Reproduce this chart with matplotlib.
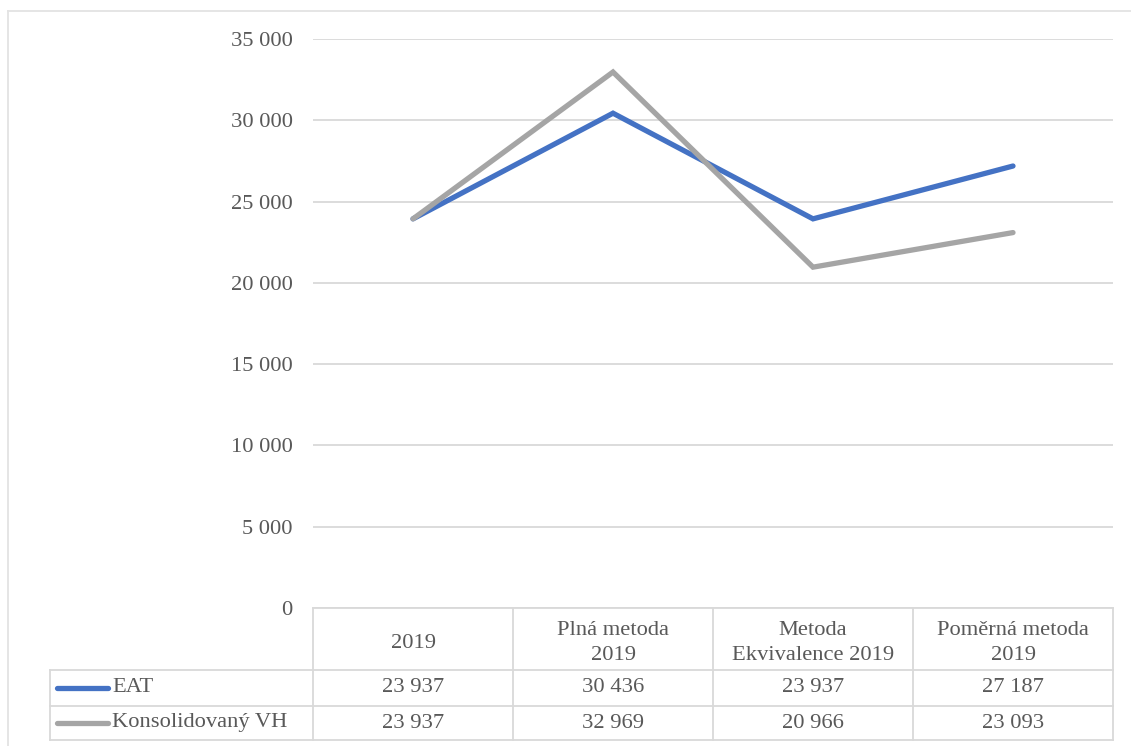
import matplotlib
matplotlib.use("Agg")
import matplotlib.pyplot as plt
from matplotlib.lines import Line2D
from matplotlib.transforms import blended_transform_factory

plt.rcParams['font.family'] = ['Liberation Serif', 'DejaVu Serif']

# data
categories = ["2019", "Plná metoda\n2019", "Metoda\nEkvivalence 2019", "Poměrná metoda\n2019"]
series_names = ["EAT", "Konsolidovaný VH"]
eat = [23937, 30436, 23937, 27187]
konsolidovany_vh = [23937, 32969, 20966, 23093]
yticks = [0, 5000, 10000, 15000, 20000, 25000, 30000, 35000]

colors = ["#4472C4", "#A5A5A5"]
grid_col = "#D9D9D9"
text_col = "#595959"
fs = 16.2

W, H = 1131, 746
fig = plt.figure(figsize=(W / 100, H / 100), dpi=100)

# plot area in pixels: x 313..1113, y 39..608
left, right, top, bottom = 313, 1113, 39, 608
ax = fig.add_axes([left / W, 1 - bottom / H, (right - left) / W, (bottom - top) / H])

def fmt(v):
    return f"{v:,}".replace(",", " ")

x = list(range(len(categories)))
for vals, c in zip([eat, konsolidovany_vh], colors):
    ax.plot(x, vals, color=c, lw=3.8, solid_capstyle="round", solid_joinstyle="miter", zorder=3)

ax.set_xlim(-0.5, len(categories) - 0.5)
ax.set_ylim(0, 35000)
ax.set_yticks(yticks)
ax.set_yticklabels([fmt(v) for v in yticks])
ax.tick_params(axis="y", length=0, pad=14.5, labelsize=fs, labelcolor=text_col)
ax.tick_params(axis="x", length=0, labelbottom=False)
for s in ax.spines.values():
    s.set_visible(False)
ax.yaxis.grid(True, color=grid_col, lw=1.3)
ax.set_axisbelow(True)

# data table below the plot; x in data units, y in axes fraction
tr = blended_transform_factory(ax.transData, ax.transAxes)
ph = bottom - top
def yfrac(py):
    return (bottom - py) / ph

row_edges = [608, 670, 706, 740]
y_edges = [yfrac(p) for p in row_edges]
label_left = -0.5 - (left - 50) / 200
n = len(categories)

line_kw = dict(color=grid_col, lw=1.3, transform=tr, clip_on=False, zorder=1)
# horizontal lines
ax.add_line(Line2D([-0.5, n - 0.5], [y_edges[0]] * 2, **line_kw))
for ye in y_edges[1:]:
    ax.add_line(Line2D([label_left, n - 0.5], [ye] * 2, **line_kw))
# vertical lines
ax.add_line(Line2D([label_left, label_left], [y_edges[1], y_edges[3]], **line_kw))
for i in range(n + 1):
    ax.add_line(Line2D([i - 0.5, i - 0.5], [y_edges[0], y_edges[3]], **line_kw))

# header
for i, cat in enumerate(categories):
    ax.text(i, (y_edges[0] + y_edges[1]) / 2 - 4 / ph, cat, transform=tr, ha="center", va="center",
            fontsize=fs, color=text_col, linespacing=1.45)

# rows
for r, (name, vals, c) in enumerate(zip(series_names, [eat, konsolidovany_vh], colors)):
    yc = (y_edges[r + 1] + y_edges[r + 2]) / 2
    lx0 = label_left + 7 / 200
    lx1 = label_left + 58 / 200
    ax.add_line(Line2D([lx0, lx1], [yc, yc], color=c, lw=3.8, solid_capstyle="round",
                       transform=tr, clip_on=False))
    ax.text(lx1 + 4 / 200, yc, name, transform=tr, ha="left", va="center",
            fontsize=fs, color=text_col)
    for i, v in enumerate(vals):
        ax.text(i, yc, fmt(v), transform=tr, ha="center", va="center",
                fontsize=fs, color=text_col)

# outer chart frame (partly visible)
fig.add_artist(Line2D([8 / W, 1], [1 - 11 / H] * 2, color="#E3E3E3", lw=1.3, transform=fig.transFigure))
fig.add_artist(Line2D([8 / W, 8 / W], [0, 1 - 11 / H], color="#E3E3E3", lw=1.3, transform=fig.transFigure))

fig.savefig("out.png", dpi=100)
